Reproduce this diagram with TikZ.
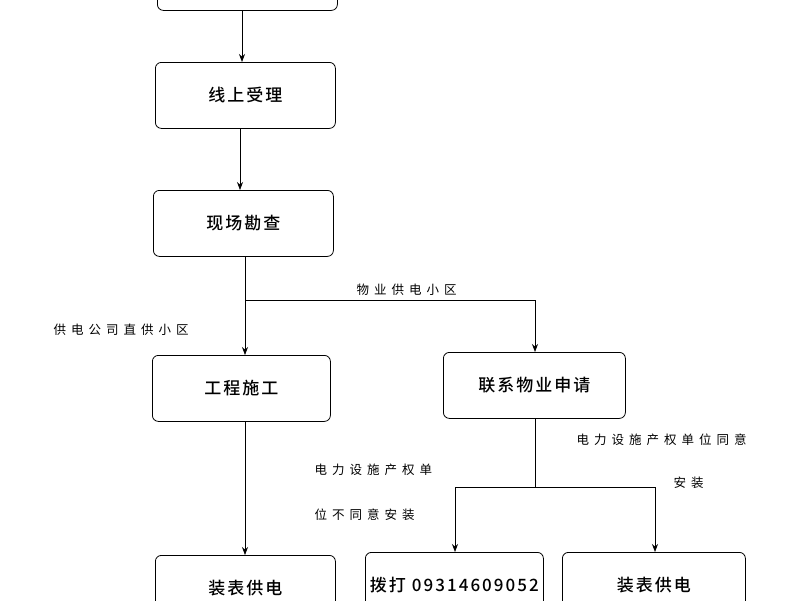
\documentclass[tikz,border=0pt]{standalone}
\usepackage{fontspec}
\setmainfont{Noto Sans CJK SC}
\newfontfamily\boxfont[LetterSpace=12]{Noto Sans CJK SC Medium}
\newfontfamily\lblfont[LetterSpace=40]{Noto Sans CJK SC}
\usetikzlibrary{arrows.meta}
\begin{document}
\begin{tikzpicture}[x=1pt,y=-1pt,
  box/.style={draw,rounded corners=6pt,line width=0.8pt,minimum width=180pt,minimum height=66pt,font=\boxfont\fontsize{17}{20}\selectfont,anchor=north west},
  lbl/.style={font=\lblfont\fontsize{12.5}{14}\selectfont,anchor=west},
  arr/.style={-{Stealth[length=8pt,width=6pt]},line width=0.7pt}]
\useasboundingbox (0,0) rectangle (800,600);
\node[box] (b1) at (157,-56) {};
\node[box] (b2) at (155,62) {线上受理};
\node[box] (b3) at (153,190) {现场勘查};
\node[box,minimum width=178pt] (b4) at (152,355) {工程施工};
\node[box,minimum width=182pt] (b5) at (443,352) {联系物业申请};
\node[box] (b7) at (155,555) {装表供电};
\node[box,minimum width=178pt] (b8) at (365,552) {拨打 09314609052};
\node[box,minimum width=183pt] (b9) at (562,552) {装表供电};
\coordinate (s3) at (245,256);
\coordinate (j1) at (245,300);
\coordinate (j2) at (535,300);
\coordinate (s5) at (535,418);
\coordinate (j3) at (535,487);
\coordinate (j4) at (455,487);
\coordinate (j5) at (655,487);
\draw[arr] (242,10) -- (242,62);
\draw[arr] (240,128) -- (240,190);
\draw[arr] (s3) -- (245,355);
\draw[arr] (j1) -- (j2) -- (535,352);
\draw[arr] (245,421) -- (245,555);
\draw (s5) -- (j3);
\draw[arr] (j3) -- (j4) -- (455,552);
\draw[arr] (j3) -- (j5) -- (655,552);
\node[lbl] (t1) at (353,290) {物业供电小区};
\node[lbl] (t2) at (50,330) {供电公司直供小区};
\node[lbl] (t3) at (311,470) {电力设施产权单};
\node[lbl] (t4) at (311,515) {位不同意安装};
\node[lbl] (t5) at (573,440) {电力设施产权单位同意};
\node[lbl] (t6) at (670,483) {安装};
\end{tikzpicture}
\end{document}
